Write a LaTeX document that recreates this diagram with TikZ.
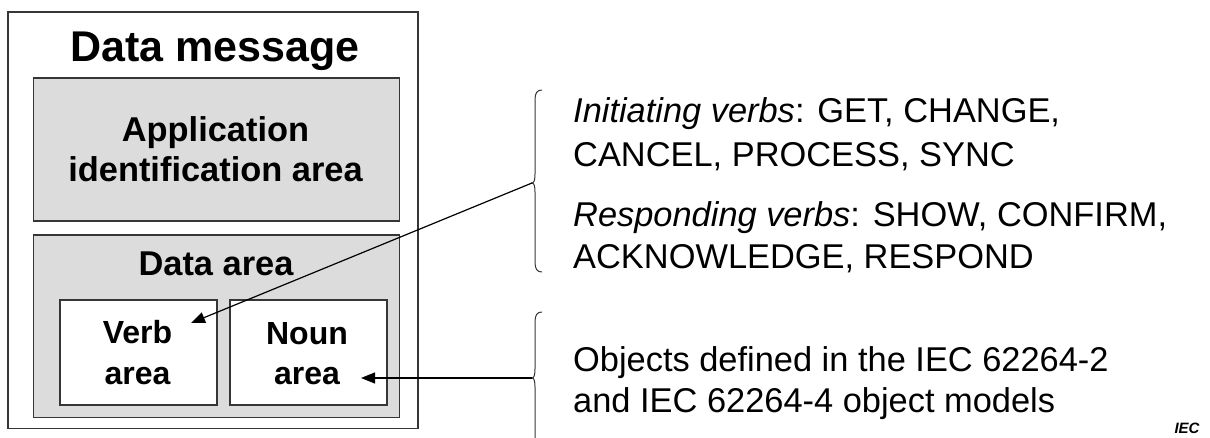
\documentclass[tikz,border=0pt]{standalone}
\usepackage{fontspec}
\setmainfont{Liberation Sans}
\usetikzlibrary{arrows.meta}
\definecolor{boxgray}{HTML}{DCDCDC}
\definecolor{edge}{HTML}{363636}
\tikzset{
  frame/.style={draw=edge, line width=1.6pt, inner sep=0pt, anchor=north west},
  graybox/.style={frame, fill=boxgray},
  whitebox/.style={frame, fill=white},
  title/.style={font=\fontsize{43}{48}\selectfont\bfseries, inner sep=0pt, anchor=base},
  boxlabel/.style={font=\fontsize{34.4}{40}\selectfont\bfseries, inner sep=0pt, anchor=base},
  smalllabel/.style={font=\fontsize{32}{40}\selectfont\bfseries, inner sep=0pt, anchor=base},
  desc/.style={font=\fontsize{34.4}{43}\selectfont, inner sep=0pt, anchor=base west},
  bracepath/.style={draw=edge, line width=1pt},
  pointer/.style={draw=black, line width=1.2pt, -{Triangle[length=14pt,width=11pt]}},
}
\begin{document}
\begin{tikzpicture}[x=1pt,y=-1pt]
\useasboundingbox (0,0) rectangle (1210,438);
% boxes
\node[frame, minimum width=410pt, minimum height=416pt] (msg) at (7,11.5) {};
\node[graybox, minimum width=366pt, minimum height=143pt] (app) at (32.5,77.5) {};
\node[graybox, minimum width=366pt, minimum height=182pt] (data) at (32.5,234.5) {};
\node[whitebox, minimum width=157pt, minimum height=105pt] (verb) at (59,299) {};
\node[whitebox, minimum width=157pt, minimum height=105pt] (noun) at (229,299) {};
% labels
\node[title] (msgL) at (215,62) {Data message};
\node[boxlabel] (appL1) at (215.5,142) {Application};
\node[boxlabel] (appL2) at (215.5,182) {identification area};
\node[boxlabel] (dataL) at (216,276) {Data area};
\node[smalllabel] (verbL1) at (137.5,343) {Verb};
\node[smalllabel] (verbL2) at (137.5,384) {area};
\node[smalllabel] (nounL1) at (307,344) {Noun};
\node[smalllabel] (nounL2) at (307,384) {area};
% right texts
\node[desc] (t1) at (573,123) {\itshape Initiating verbs\upshape: GET, CHANGE,};
\node[desc] (t2) at (573,167) {CANCEL, PROCESS, SYNC};
\node[desc] (t3) at (573,227) {\itshape Responding verbs\upshape: SHOW, CONFIRM,};
\node[desc] (t4) at (573,269) {ACKNOWLEDGE, RESPOND};
\node[desc] (t5) at (573,371) {Objects defined in the IEC 62264-2};
\node[desc] (t6) at (573,412) {and IEC 62264-4 object models};
\node[font=\fontsize{15}{18}\selectfont\bfseries\itshape, inner sep=0pt, anchor=base] (iec) at (1187,433) {IEC};
% braces
\coordinate (b1tip) at (532,183);
\coordinate (b2tip) at (532,378);
\draw[bracepath] (542,90) .. controls (537,90) and (535,93) .. (535,100) -- (535,174)
  .. controls (535,180) and (534,183) .. (b1tip)
  .. controls (534,183) and (535,186) .. (535,192) -- (535,262)
  .. controls (535,269) and (537,272) .. (542,272);
\draw[bracepath] (542,312) .. controls (537,312) and (535,315) .. (535,322) -- (535,369)
  .. controls (535,375) and (534,378) .. (b2tip)
  .. controls (534,378) and (535,381) .. (535,387) -- (535,438);
% pointers
\coordinate (verbtip) at (191,323);
\coordinate (nountip) at (361,378);
\draw[pointer] (b1tip) -- (verbtip);
\draw[pointer] (b2tip) -- (nountip);
\end{tikzpicture}
\end{document}
